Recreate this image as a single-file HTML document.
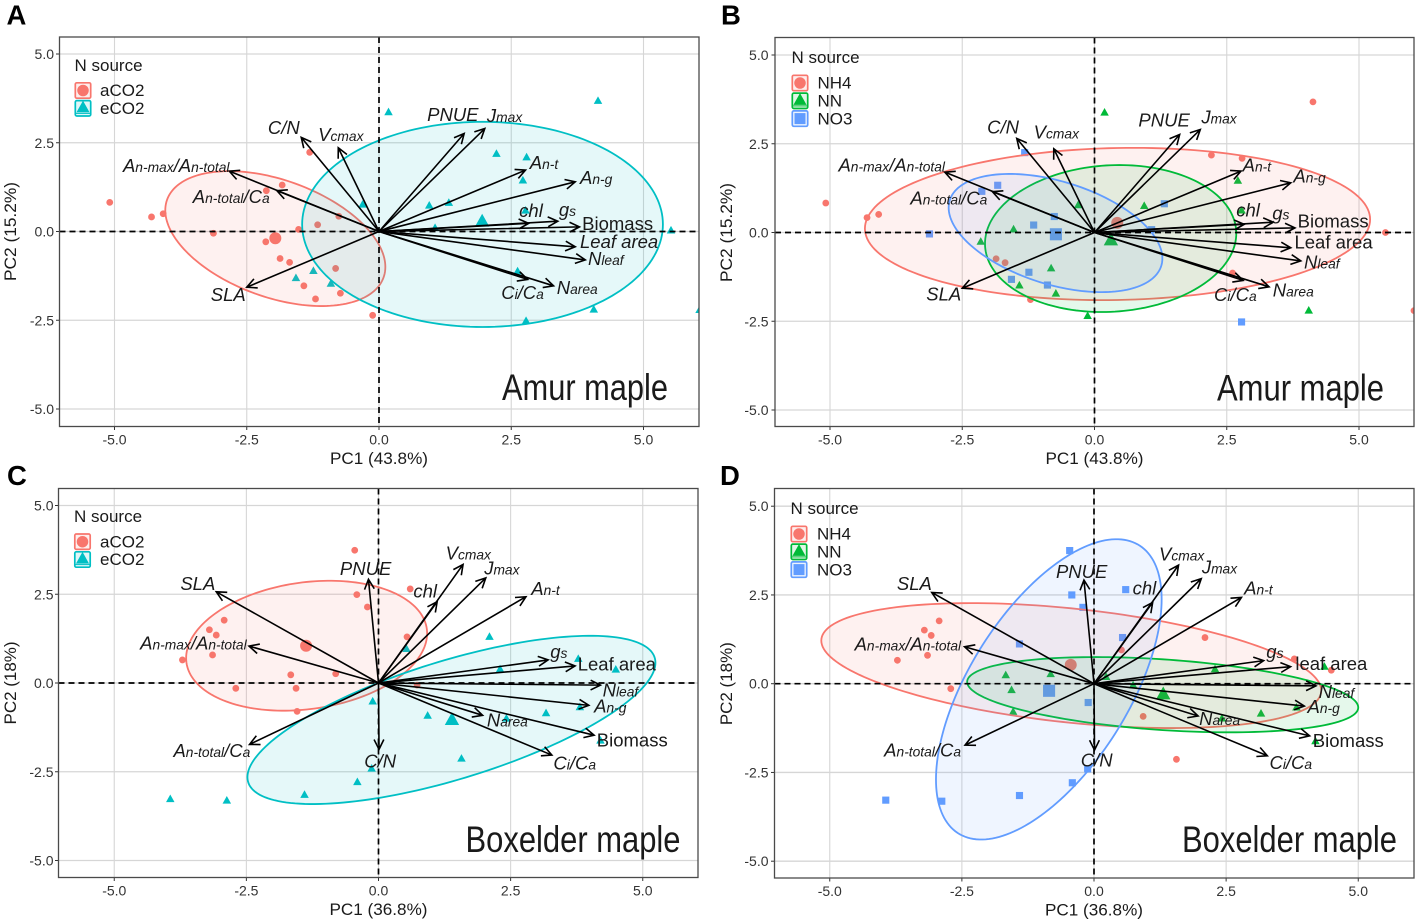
<!DOCTYPE html>
<html lang="en">
<head>
<meta charset="utf-8">
<title>PCA biplots of Amur maple and Boxelder maple</title>
<style>
html,body{margin:0;padding:0;background:#fff;}
svg{display:block;font-family:"Liberation Sans",Arial,sans-serif;}
</style>
</head>
<body>
<svg id="figure" width="1417" height="922" viewBox="0 0 1417 922" xmlns="http://www.w3.org/2000/svg"></svg>
<script>
// ---- axis ticks ----
const xTickValues = [-5, -2.5, 0, 2.5, 5];
const yTickValues = [-5, -2.5, 0, 2.5, 5];
const xTickLabels = ["-5.0", "-2.5", "0.0", "2.5", "5.0"];
const yTickLabels = ["-5.0", "-2.5", "0.0", "2.5", "5.0"];

// ---- trait names ("|" alternates main text and small subscript text) ----
const amurTraitNames = ["A|n-max|/A|n-total", "A|n-total|/C|a", "C/N", "V|cmax", "PNUE", "J|max", "A|n-t", "A|n-g", "chl", "g|s", "Biomass", "Leaf area", "N|leaf", "C|i|/C|a", "N|area", "SLA"];
const boxelderTraitNames = ["SLA", "A|n-max|/A|n-total", "PNUE", "chl", "V|cmax", "J|max", "A|n-t", "g|s", "Leaf area", "N|leaf", "A|n-g", "Biomass", "C|i|/C|a", "N|area", "C/N", "A|n-total|/C|a"];
const boxelderTraitNamesD = ["SLA", "A|n-max|/A|n-total", "PNUE", "chl", "V|cmax", "J|max", "A|n-t", "g|s", "leaf area", "N|leaf", "A|n-g", "Biomass", "C|i|/C|a", "N|area", "C/N", "A|n-total|/C|a"];

// ---- PCA loadings (arrow tips, PC units) ----
const amurLoadingPC1 = [-2.83, -1.93, -1.47, -0.77, 1.61, 2.0, 2.77, 3.71, 2.83, 3.38, 3.79, 3.71, 3.9, 2.81, 3.3, -2.5];
const amurLoadingPC2 = [1.70, 1.15, 2.65, 2.36, 2.76, 2.9, 1.73, 1.40, 0.23, 0.29, 0.13, -0.43, -0.8, -1.35, -1.53, -1.57];
const boxelderLoadingPC1 = [-3.07, -2.45, -0.19, 1.11, 1.60, 2.03, 2.79, 3.21, 3.72, 4.2, 3.98, 4.08, 3.28, 1.97, 0.01, -2.44];
const boxelderLoadingPC2 = [2.57, 1.04, 2.92, 2.29, 3.34, 2.96, 2.43, 0.65, 0.48, -0.06, -0.63, -1.47, -2.03, -0.91, -1.87, -1.73];

// ---- trait label anchors (PC units) ----
const labelPC1A = [-4.84, -3.52, -2.10, -1.15, 0.91, 2.04, 2.85, 3.80, 2.65, 3.40, 3.84, 3.80, 3.95, 2.31, 3.36, -3.18];
const labelPC2A = [1.68, 0.80, 2.75, 2.55, 3.11, 3.08, 1.76, 1.34, 0.41, 0.44, 0.04, -0.46, -0.94, -1.90, -1.76, -1.96];
const labelPC1B = [-4.84, -3.48, -2.03, -1.15, 0.83, 2.02, 2.80, 3.76, 2.68, 3.36, 3.84, 3.78, 3.96, 2.26, 3.37, -3.18];
const labelPC2B = [1.72, 0.79, 2.79, 2.65, 2.99, 3.07, 1.72, 1.41, 0.45, 0.37, 0.14, -0.45, -1.01, -1.93, -1.80, -1.91];
const labelPC1C = [-3.75, -4.51, -0.73, 0.66, 1.27, 2.0, 2.89, 3.25, 3.77, 4.24, 4.08, 4.13, 3.31, 2.05, -0.27, -3.88];
const labelPC2C = [2.62, 0.95, 3.04, 2.41, 3.48, 3.06, 2.48, 0.70, 0.35, -0.38, -0.83, -1.79, -2.43, -1.23, -2.38, -2.08];
const labelPC1D = [-3.73, -4.53, -0.72, 0.73, 1.23, 2.04, 2.84, 3.26, 3.81, 4.25, 4.04, 4.14, 3.32, 1.99, -0.25, -3.97];
const labelPC2D = [2.64, 0.94, 2.98, 2.51, 3.47, 3.10, 2.51, 0.72, 0.38, -0.40, -0.83, -1.78, -2.40, -1.17, -2.33, -2.05];

// ---- plot scores: panel A ----
const amurAco2Scores = [[-5.09,0.82],[-4.30,0.41],[-4.08,0.50],[-2.13,1.15],[-1.83,1.31],[-1.31,2.23],[-1.16,0.19],[-1.52,0.06],[-0.76,0.43],[-3.13,-0.05],[-2.14,-0.29],[-1.87,-0.76],[-1.69,-0.87],[-0.82,-1.04],[-1.42,-1.53],[-1.20,-1.90],[-0.73,-1.74],[-0.12,-2.36]];
const amurEco2Scores = [[0.18,3.37],[4.14,3.69],[2.22,2.2],[2.79,2.10],[2.72,1.45],[-0.31,0.77],[0.95,0.74],[1.32,0.82],[2.77,0.6],[5.52,0.04],[1.06,0.11],[-1.57,-1.30],[-1.24,-1.10],[-0.91,-1.46],[2.62,-1.11],[2.78,-2.51],[4.06,-2.19],[6.06,-2.2]];
const amurAco2Mean = [-1.96, -0.19];
const amurEco2Mean = [1.95, 0.30];

// ---- plot scores: panel B ----
const amurNh4Scores = [[-5.08,0.83],[-4.30,0.42],[-4.08,0.51],[2.21,2.18],[2.79,2.09],[4.13,3.68],[5.5,0.0],[2.61,-1.14],[-1.86,-0.74],[-1.69,-0.85],[-1.21,-1.89],[6.04,-2.2]];
const amurNnScores = [[0.19,3.39],[2.71,1.47],[2.78,0.63],[-0.31,0.78],[0.94,0.76],[-1.53,0.10],[-2.15,-0.25],[-0.82,-1.0],[-1.42,-1.48],[-0.73,-1.71],[-0.13,-2.34],[4.05,-2.19]];
const amurNo3Scores = [[-1.32,2.25],[-1.83,1.33],[-2.13,1.16],[-1.15,0.21],[-0.76,0.45],[1.32,0.81],[-3.12,-0.04],[-1.24,-1.12],[-1.57,-1.32],[-0.89,-1.48],[2.78,-2.52],[1.08,0.08]];
const amurNh4Mean = [0.43, 0.27];
const amurNnMean = [0.31, -0.2];
const amurNo3Mean = [-0.73, -0.05];

// ---- plot scores: panel C ----
const boxelderAco2Scores = [[-0.45,3.74],[0.6,2.65],[-0.41,2.49],[-0.21,2.14],[-2.92,1.77],[-3.2,1.50],[-3.07,1.35],[-3.14,0.79],[-3.71,0.65],[0.54,1.30],[-1.66,0.23],[-0.81,0.26],[0.73,-0.06],[-2.7,-0.15],[-1.56,-0.15],[-1.54,-0.80]];
const boxelderEco2Scores = [[0.53,0.97],[2.1,1.31],[2.3,0.40],[3.78,0.69],[4.49,0.39],[-0.11,-0.51],[0.93,-0.91],[2.42,-0.99],[3.17,-0.84],[3.81,-0.67],[4.2,-1.61],[1.57,-2.12],[-0.13,-2.40],[-0.4,-2.78],[-1.4,-3.14],[-2.87,-3.30],[-3.94,-3.26]];
const boxelderAco2Mean = [-1.37, 1.05];
const boxelderEco2Mean = [1.39, -1.02];

// ---- plot scores: panel D ----
const boxelderNh4Scores = [[-2.93,1.77],[-3.21,1.51],[-3.08,1.36],[-3.15,0.80],[-3.72,0.66],[0.52,0.95],[2.10,1.30],[3.79,0.70],[4.49,0.38],[-2.71,-0.14],[0.93,-0.92],[1.56,-2.13]];
const boxelderNnScores = [[-1.67,0.25],[-0.82,0.28],[0.23,0.2],[2.29,0.42],[4.36,0.49],[0.74,-0.03],[-1.56,-0.17],[-1.53,-0.78],[2.42,-0.97],[3.16,-0.83],[3.83,-0.66],[4.19,-1.61]];
const boxelderNo3Scores = [[-0.46,3.75],[-0.42,2.5],[-0.21,2.15],[0.6,2.65],[0.54,1.3],[-1.41,1.12],[-0.11,-0.53],[-0.12,-2.4],[-0.41,-2.79],[-1.41,-3.15],[-2.88,-3.31],[-3.94,-3.28]];
const boxelderNh4Mean = [-0.44, 0.53];
const boxelderNnMean = [1.31, -0.28];
const boxelderNo3Mean = [-0.85, -0.2];

// ---- confidence ellipses: [centre PC1, centre PC2, half-width PC1, half-height PC2, correlation] ----
const amurAco2Ellipse = [-1.96, -0.2, 2.08, 1.90, -0.42];
const amurEco2Ellipse = [1.957, 0.2, 3.41, 2.89, 0.0];
const amurNh4Ellipse = [0.435, 0.24, 4.775, 2.145, 0.06];
const amurNnEllipse = [0.305, -0.17, 2.375, 2.07, 0.07];
const amurNo3Ellipse = [-0.737, -0.015, 2.02, 1.665, -0.43];
const boxelderAco2Ellipse = [-1.36, 1.05, 2.28, 1.83, 0.19];
const boxelderEco2Ellipse = [1.38, -1.04, 3.86, 2.37, 0.68];
const boxelderNh4Ellipse = [-0.43, 0.51, 4.73, 1.76, -0.40];
const boxelderNnEllipse = [1.3, -0.31, 3.7, 1.06, -0.34];
const boxelderNo3Ellipse = [-0.855, -0.16, 2.135, 4.23, 0.6];

const RED = "#F8766D", TEAL = "#00BFC4", GREEN = "#00BA38", BLUE = "#619CFF";
const SHAPE_CIRCLE = "circle", SHAPE_TRIANGLE = "triangle", SHAPE_SQUARE = "square";

const panels = [
  { id: "a", letter: "A", letterX: 6.5, letterY: 24.5, left: 59.5, right: 699, top: 37, bottom: 426.5,
    zeroX: 379, zeroY: 231.5, unitX: 52.9, unitY: 35.5, tickRight: 54,
    xTitle: "PC1 (43.8%)", yTitle: "PC2 (15.2%)", yTitleX: 16, yTitleLen: 99,
    species: "Amur maple", speciesX: 502, speciesY: 400, speciesLen: 166,
    names: amurTraitNames, loadX: amurLoadingPC1, loadY: amurLoadingPC2, labelX: labelPC1A, labelY: labelPC2A, uprightLeaf: false,
    legendX: 74.5, legendTitleY: 71, keyTop: 82, labelTextX: 100,
    groups: [
      { name: "aCO2", color: RED, shape: SHAPE_CIRCLE, scores: amurAco2Scores, mean: amurAco2Mean, ellipse: amurAco2Ellipse },
      { name: "eCO2", color: TEAL, shape: SHAPE_TRIANGLE, scores: amurEco2Scores, mean: amurEco2Mean, ellipse: amurEco2Ellipse }
    ] },
  { id: "b", letter: "B", letterX: 721, letterY: 24.5, left: 775, right: 1414, top: 37.5, bottom: 426.5,
    zeroX: 1094.5, zeroY: 232.5, unitX: 52.9, unitY: 35.5, tickRight: 768.5,
    xTitle: "PC1 (43.8%)", yTitle: "PC2 (15.2%)", yTitleX: 732, yTitleLen: 99,
    species: "Amur maple", speciesX: 1217, speciesY: 400.5, speciesLen: 167,
    names: amurTraitNames, loadX: amurLoadingPC1, loadY: amurLoadingPC2, labelX: labelPC1B, labelY: labelPC2B, uprightLeaf: true,
    legendX: 791.5, legendTitleY: 63, keyTop: 74.5, labelTextX: 817.5,
    groups: [
      { name: "NH4", color: RED, shape: SHAPE_CIRCLE, scores: amurNh4Scores, mean: amurNh4Mean, ellipse: amurNh4Ellipse },
      { name: "NN", color: GREEN, shape: SHAPE_TRIANGLE, scores: amurNnScores, mean: amurNnMean, ellipse: amurNnEllipse },
      { name: "NO3", color: BLUE, shape: SHAPE_SQUARE, scores: amurNo3Scores, mean: amurNo3Mean, ellipse: amurNo3Ellipse }
    ] },
  { id: "c", letter: "C", letterX: 7, letterY: 485, left: 58.5, right: 698, top: 488.5, bottom: 877.5,
    zeroX: 378.5, zeroY: 683, unitX: 52.85, unitY: 35.5, tickRight: 53.5,
    xTitle: "PC1 (36.8%)", yTitle: "PC2 (18%)", yTitleX: 16, yTitleLen: 83,
    species: "Boxelder maple", speciesX: 465.5, speciesY: 852, speciesLen: 215,
    names: boxelderTraitNames, loadX: boxelderLoadingPC1, loadY: boxelderLoadingPC2, labelX: labelPC1C, labelY: labelPC2C, uprightLeaf: true,
    legendX: 74, legendTitleY: 522, keyTop: 533.2, labelTextX: 100,
    groups: [
      { name: "aCO2", color: RED, shape: SHAPE_CIRCLE, scores: boxelderAco2Scores, mean: boxelderAco2Mean, ellipse: boxelderAco2Ellipse },
      { name: "eCO2", color: TEAL, shape: SHAPE_TRIANGLE, scores: boxelderEco2Scores, mean: boxelderEco2Mean, ellipse: boxelderEco2Ellipse }
    ] },
  { id: "d", letter: "D", letterX: 720, letterY: 485, left: 774.5, right: 1414, top: 488.5, bottom: 878,
    zeroX: 1094, zeroY: 683.7, unitX: 52.85, unitY: 35.5, tickRight: 768.5,
    xTitle: "PC1 (36.8%)", yTitle: "PC2 (18%)", yTitleX: 732, yTitleLen: 83,
    species: "Boxelder maple", speciesX: 1182, speciesY: 852, speciesLen: 215,
    names: boxelderTraitNamesD, loadX: boxelderLoadingPC1, loadY: boxelderLoadingPC2, labelX: labelPC1D, labelY: labelPC2D, uprightLeaf: true,
    legendX: 790.5, legendTitleY: 514, keyTop: 525.5, labelTextX: 817,
    groups: [
      { name: "NH4", color: RED, shape: SHAPE_CIRCLE, scores: boxelderNh4Scores, mean: boxelderNh4Mean, ellipse: boxelderNh4Ellipse },
      { name: "NN", color: GREEN, shape: SHAPE_TRIANGLE, scores: boxelderNnScores, mean: boxelderNnMean, ellipse: boxelderNnEllipse },
      { name: "NO3", color: BLUE, shape: SHAPE_SQUARE, scores: boxelderNo3Scores, mean: boxelderNo3Mean, ellipse: boxelderNo3Ellipse }
    ] }
];

const SVG_NS = "http://www.w3.org/2000/svg";
const root = document.getElementById("figure");

function make(tag, attrs, parent) {
  const el = document.createElementNS(SVG_NS, tag);
  for (const k in attrs) el.setAttribute(k, attrs[k]);
  parent.appendChild(el);
  return el;
}

function slug(s) {
  return s.toLowerCase().replace(/[^a-z0-9]+/g, "-").replace(/^-|-$/g, "");
}

function markerPath(shape, cx, cy, size) {
  if (shape === SHAPE_TRIANGLE) {
    const w = size * 1.25, h = size * 1.12;
    return "M" + (cx - w / 2) + " " + (cy + h * 0.45) + "L" + (cx + w / 2) + " " + (cy + h * 0.45) + "L" + cx + " " + (cy - h * 0.55) + "Z";
  }
  if (shape === SHAPE_SQUARE) {
    const h = size * 1.05 / 2;
    return "M" + (cx - h) + " " + (cy - h) + "H" + (cx + h) + "V" + (cy + h) + "H" + (cx - h) + "Z";
  }
  const r = size / 2;
  return "M" + (cx - r) + " " + cy + "A" + r + " " + r + " 0 1 0 " + (cx + r) + " " + cy + "A" + r + " " + r + " 0 1 0 " + (cx - r) + " " + cy + "Z";
}

function drawPanel(p) {
  const sx = v => p.zeroX + v * p.unitX;
  const sy = v => p.zeroY - v * p.unitY;

  const panel = make("g", {}, root);
  
  

  const clip = make("clipPath", { id: "clip-" + p.id }, panel);
  make("rect", { x: p.left, y: p.top, width: p.right - p.left, height: p.bottom - p.top }, clip);

  const letter = make("text", { x: p.letterX, y: p.letterY, "font-size": 27.5, "font-weight": "bold", fill: "#000" }, panel);
  letter.textContent = p.letter;
  
  

  const bg = make("rect", { x: p.left, y: p.top, width: p.right - p.left, height: p.bottom - p.top, fill: "#fff" }, panel);
  
  

  // gridlines and ticks
  xTickValues.forEach((v, i) => {
    const g = make("line", { x1: sx(v), x2: sx(v), y1: p.top, y2: p.bottom, stroke: "#d6d6d6", "stroke-width": 1.1 }, panel);
    
    
    const t = make("line", { x1: sx(v), x2: sx(v), y1: p.bottom, y2: p.bottom + 3.5, stroke: "#333", "stroke-width": 1 }, panel);
    
    
    const l = make("text", { x: sx(v), y: p.bottom + 18, "font-size": 14, fill: "#333", "text-anchor": "middle" }, panel);
    l.textContent = xTickLabels[i];
    
    
  });
  yTickValues.forEach((v, i) => {
    const g = make("line", { x1: p.left, x2: p.right, y1: sy(v), y2: sy(v), stroke: "#d6d6d6", "stroke-width": 1.3 }, panel);
    
    
    const t = make("line", { x1: p.left - 3.5, x2: p.left, y1: sy(v), y2: sy(v), stroke: "#333", "stroke-width": 1 }, panel);
    
    
    const l = make("text", { x: p.tickRight, y: sy(v) + 5, "font-size": 14, fill: "#333", "text-anchor": "end" }, panel);
    l.textContent = yTickLabels[i];
    
    
  });

  const plot = make("g", { "clip-path": "url(#clip-" + p.id + ")" }, panel);
  
  

  // points
  p.groups.forEach(gr => {
    const layer = make("g", { fill: gr.color }, plot);
    
    
    gr.scores.forEach(s => {
      const m = make("path", { d: markerPath(gr.shape, sx(s[0]), sy(s[1]), 6.8) }, layer);
      
      
    });
    const mean = make("path", { d: markerPath(gr.shape, sx(gr.mean[0]), sy(gr.mean[1]), gr.shape === SHAPE_CIRCLE ? 12 : 11.5) }, layer);
    
    
  });

  // ellipses
  p.groups.forEach(gr => {
    const e = gr.ellipse;
    let d = "";
    for (let i = 0; i < 180; i++) {
      const t = i / 180 * Math.PI * 2;
      const x = e[0] + e[2] * Math.cos(t);
      const y = e[1] + e[3] * (e[4] * Math.cos(t) + Math.sqrt(1 - e[4] * e[4]) * Math.sin(t));
      d += (i ? "L" : "M") + sx(x).toFixed(2) + " " + sy(y).toFixed(2);
    }
    const el = make("path", { d: d + "Z", fill: gr.color, "fill-opacity": 0.1, stroke: gr.color, "stroke-width": 1.8 }, plot);
    
    
  });

  // reference lines
  const h0 = make("line", { x1: p.left, x2: p.right, y1: sy(0), y2: sy(0), stroke: "#000", "stroke-width": 1.7, "stroke-dasharray": "6 4" }, plot);
  
  
  const v0 = make("line", { x1: sx(0), x2: sx(0), y1: p.top, y2: p.bottom, stroke: "#000", "stroke-width": 1.7, "stroke-dasharray": "6 4" }, plot);
  
  

  // loading arrows
  p.loadX.forEach((lx, i) => {
    const x1 = sx(lx), y1 = sy(p.loadY[i]), x0 = sx(0), y0 = sy(0);
    const ang = Math.atan2(y1 - y0, x1 - x0), len = 11, spread = 0.46;
    const d = "M" + x0 + " " + y0 + "L" + x1 + " " + y1 +
      "M" + (x1 - len * Math.cos(ang - spread)) + " " + (y1 - len * Math.sin(ang - spread)) +
      "L" + x1 + " " + y1 +
      "L" + (x1 - len * Math.cos(ang + spread)) + " " + (y1 - len * Math.sin(ang + spread));
    const arrow = make("path", { d: d, fill: "none", stroke: "#000", "stroke-width": 1.6 }, panel);
    
    
  });

  // trait labels
  p.names.forEach((name, i) => {
    const plain = name === "Biomass" || (p.uprightLeaf && /leaf area/i.test(name));
    const t = make("text", { x: sx(p.labelX[i]), y: sy(p.labelY[i]), "font-size": 18.5, fill: "#1a1a1a", "font-style": plain ? "normal" : "italic" }, panel);
    const parts = name.split("|");
    parts.forEach((part, k) => {
      const ts = make("tspan", k % 2 ? { "font-size": 13.8 } : {}, t);
      ts.textContent = part;
    });
    
    
  });

  // axis titles
  const xt = make("text", { x: sx(0), y: p.bottom + 37.5, "font-size": 16.5, fill: "#1a1a1a", "text-anchor": "middle", textLength: 98, lengthAdjust: "spacingAndGlyphs" }, panel);
  xt.textContent = p.xTitle;
  
  
  const yt = make("text", { transform: "translate(" + p.yTitleX + " " + sy(0) + ") rotate(-90)", "font-size": 16.5, fill: "#1a1a1a", "text-anchor": "middle", textLength: p.yTitleLen, lengthAdjust: "spacingAndGlyphs" }, panel);
  yt.textContent = p.yTitle;
  
  

  // species annotation
  const sp = make("text", { x: p.speciesX, y: p.speciesY, "font-size": 37, fill: "#1a1a1a", textLength: p.speciesLen, lengthAdjust: "spacingAndGlyphs" }, panel);
  sp.textContent = p.species;
  
  

  // legend
  const legend = make("g", {}, panel);
  
  
  const lt = make("text", { x: p.legendX, y: p.legendTitleY, "font-size": 17, fill: "#1a1a1a" }, legend);
  lt.textContent = "N source";
  
  
  p.groups.forEach((gr, i) => {
    const top = p.keyTop + i * 17.8;
    const entry = make("g", {}, legend);
    
    
    make("rect", { x: p.legendX + 0.8, y: top + 0.8, width: 15.4, height: 15.4, rx: 1.5, fill: gr.color, "fill-opacity": 0.12, stroke: gr.color, "stroke-width": 1.7 }, entry);
    make("path", { d: markerPath(gr.shape, p.legendX + 8.5, top + (gr.shape === SHAPE_TRIANGLE ? 7.3 : 8.5), gr.shape === SHAPE_CIRCLE ? 11.5 : 10.5), fill: gr.color }, entry);
    if (gr.shape === SHAPE_TRIANGLE) {
      make("line", { x1: p.legendX + 1, x2: p.legendX + 16, y1: top + 13.6, y2: top + 13.6, stroke: gr.color, "stroke-width": 1 }, entry);
    }
    const lab = make("text", { x: p.labelTextX, y: top + 14.2, "font-size": 17, fill: "#1a1a1a" }, entry);
    lab.textContent = gr.name;
  });

  // panel border
  const border = make("rect", { x: p.left, y: p.top, width: p.right - p.left, height: p.bottom - p.top, fill: "none", stroke: "#4a4a4a", "stroke-width": 1.3 }, panel);
  
  
}

panels.forEach(drawPanel);
</script>
</body>
</html>
